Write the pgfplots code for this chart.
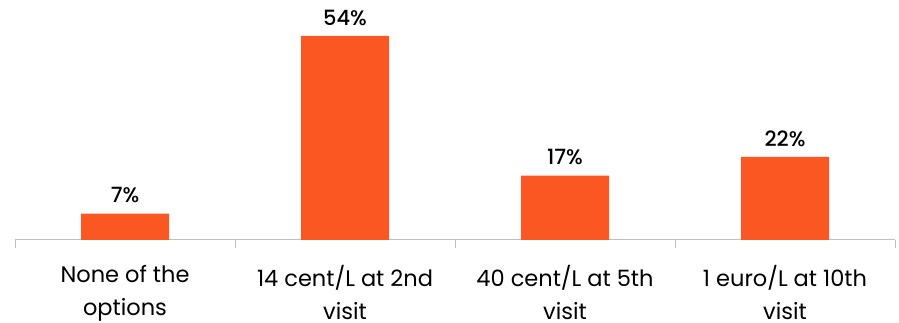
\documentclass[border=0pt]{standalone}
\usepackage{pgfplots}
\pgfplotsset{compat=1.18}
\usepackage{fontspec}
\setmainfont{Poppins}
\IfFontExistsTF{Poppins Medium}{\newfontfamily\valfont{Poppins Medium}}{\newcommand\valfont{\bfseries}}
\definecolor{barorange}{HTML}{FA5722}
\definecolor{axisgrey}{HTML}{BFBFBF}
\begin{document}
\begin{tikzpicture}
\path[use as bounding box] (0,0) rectangle (899pt,323pt);
\begin{axis}[
  at={(15pt,83pt)}, anchor=south west,
  scale only axis,
  width=880pt, height=226.8pt,
  xmin=-0.5, xmax=3.5,
  ymin=0, ymax=60,
  axis y line=none,
  axis x line*=bottom,
  x axis line style={draw=axisgrey, line width=1pt, -},
  xtick={0,1,2,3},
  xticklabels={None of the\\options, 14 cent/L at 2nd\\visit, 40 cent/L at 5th\\visit, 1 euro/L at 10th\\visit},
  major tick length=0pt,
  minor xtick={-0.5,0.5,1.5,2.5,3.5},
  minor tick length=8pt,
  tick align=outside,
  minor tick style={draw=axisgrey, line width=1pt},
  xticklabel style={align=center, font=\fontsize{22.5}{33}\selectfont, anchor=north, yshift=-22pt},
  /pgf/number format/assume math mode=true,
  ybar, bar width=88pt,
  nodes near coords={\pgfmathprintnumber{\pgfplotspointmeta}\%},
  nodes near coords style={font=\fontsize{21}{24}\selectfont\valfont, text=black, anchor=south, yshift=7pt},
  point meta=explicit,
  clip=false,
]
\addplot[fill=barorange, draw=none] coordinates {(0,7) [7] (1,54) [54] (2,17) [17] (3,22) [22]};
\end{axis}
\end{tikzpicture}
\end{document}
